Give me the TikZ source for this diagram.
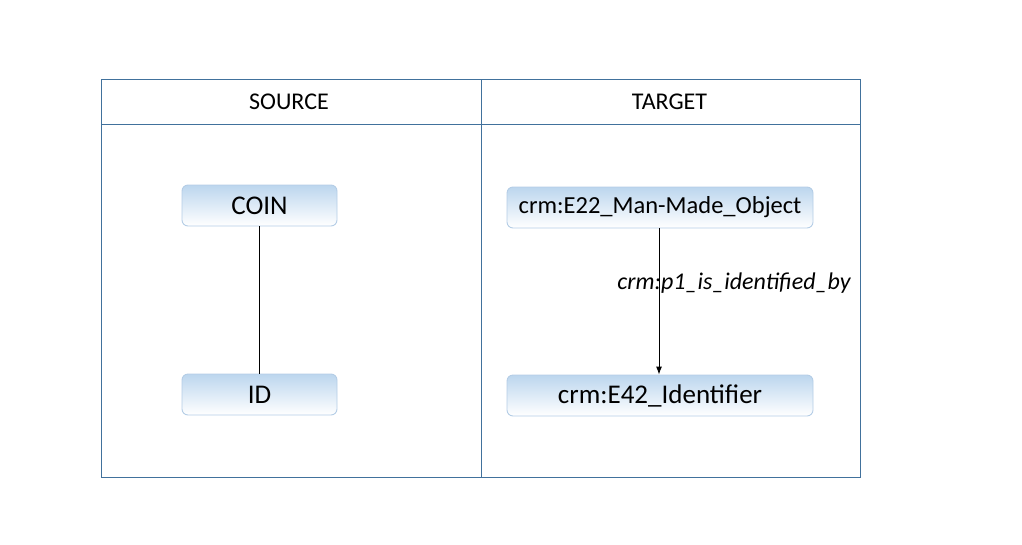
\documentclass[tikz,border=0pt]{standalone}
\usepackage{fontspec}
\setmainfont{Carlito}
\usetikzlibrary{arrows,arrows.meta,positioning}
\definecolor{tableblue}{HTML}{41719C}
\definecolor{boxline}{HTML}{B4CDE6}
\definecolor{boxtop}{HTML}{BCD6EE}

\begin{document}
\begin{tikzpicture}
[x=1pt,y=-1pt,line width=0.9pt,
 cls/.style={draw=boxline,rounded corners=6pt,top color=boxtop,bottom color=white,
  minimum height=41pt,inner sep=0pt,font=\fontsize{27}{31}\selectfont},
 head/.style={font=\fontsize{24}{28}\selectfont}]
\useasboundingbox (0,0) rectangle (1022,544);
%% table
\draw[tableblue] (101,79) rectangle (860,477);
\draw[tableblue] (101,124) -- (860,124);
\draw[tableblue] (481,79) -- (481,477);
\node[head] (src) at (289,101.5) {SOURCE};
\node[head] (tgt) at (669.5,101.5) {TARGET};
%% source
\node[cls,minimum width=155pt] (coin) at (259.5,205.5) {COIN};
\node[cls,minimum width=155pt] (id) at (259.5,394.5) {ID};
\draw (coin) -- (id);
%% target
\node[cls,minimum width=306pt,font=\fontsize{24.5}{28}\selectfont] (e22) at (660,207.5) {crm:E22\_Man-Made\_Object};
\node[cls,minimum width=306pt] (e42) at (660,395.5) {crm:E42\_Identifier};
\draw[-{Latex[length=8pt,width=6pt]}] (e22.south -| 659,0) -- (e42.north -| 659,0);
\node[font=\fontsize{24}{28}\selectfont\itshape] (p1) at (734,283) {crm:p1\_is\_identified\_by};
\end{tikzpicture}
\end{document}
